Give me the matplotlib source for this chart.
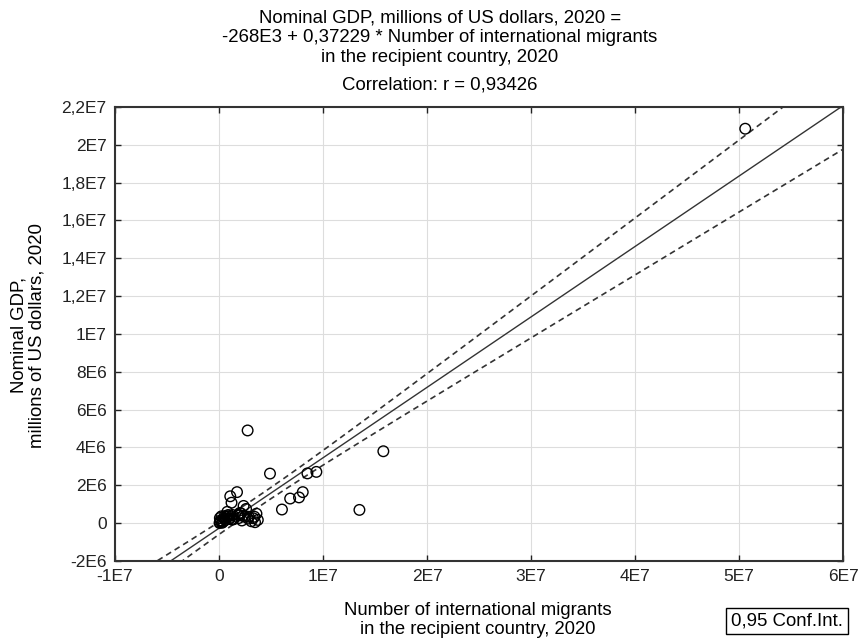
import numpy as np
import matplotlib.pyplot as plt

plt.rcParams['font.family'] = ['Liberation Sans', 'DejaVu Sans']

# migrants (persons) and nominal GDP (millions of US dollars), 2020
migrants = [50.6e6, 15.8e6, 13.5e6, 9.36e6, 8.5e6, 8.05e6, 7.69e6, 6.84e6,
            6.05e6, 4.9e6, 2.75e6, 3.73e6, 3.46e6, 1.73e6, 1.08e6, 1.2e6,
            2.36e6, 2.6e6, 2.0e6, 2.1e6, 1.8e6, 2.3e6, 0.8e6, 0.9e6,
            0.72e6, 1.95e6, 2.5e6, 0.88e6, 0.52e6, 1.0e6, 1.3e6, 0.94e6,
            1.9e6, 3.4e6, 2.86e6, 3.6e6, 1.3e6, 0.54e6, 0.23e6, 0.08e6,
            3.28e6, 2.8e6, 0.6e6, 0.7e6, 1.4e6, 1.2e6, 2.2e6, 3.1e6,
            0.1e6, 0.3e6, 0.2e6, 0.05e6, 0.4e6, 0.15e6]
gdp = [20.85e6, 3.80e6, 0.70e6, 2.71e6, 2.63e6, 1.64e6, 1.36e6, 1.30e6,
       0.72e6, 2.62e6, 4.90e6, 0.17e6, 0.05e6, 1.64e6, 1.42e6, 1.08e6,
       0.91e6, 0.75e6, 0.54e6, 0.52e6, 0.43e6, 0.39e6, 0.60e6, 0.36e6,
       0.36e6, 0.41e6, 0.34e6, 0.43e6, 0.25e6, 0.23e6, 0.19e6, 0.25e6,
       0.27e6, 0.34e6, 0.34e6, 0.50e6, 0.43e6, 0.37e6, 0.36e6, 0.27e6,
       0.26e6, 0.24e6, 0.16e6, 0.25e6, 0.21e6, 0.20e6, 0.14e6, 0.10e6,
       0.05e6, 0.02e6, 0.10e6, 0.01e6, 0.08e6, 0.15e6]

intercept = -268e3
slope = 0.37229
r_value = 0.93426

x_ticks = [-1e7, 0, 1e7, 2e7, 3e7, 4e7, 5e7, 6e7]
x_labels = ['-1E7', '0', '1E7', '2E7', '3E7', '4E7', '5E7', '6E7']
y_ticks = [-2e6, 0, 2e6, 4e6, 6e6, 8e6, 1e7, 1.2e7, 1.4e7, 1.6e7, 1.8e7, 2e7, 2.2e7]
y_labels = ['-2E6', '0', '2E6', '4E6', '6E6', '8E6', '1E7', '1,2E7', '1,4E7',
            '1,6E7', '1,8E7', '2E7', '2,2E7']

x = np.array(migrants)
y = np.array(gdp)
n = len(x)

# 95% confidence band for the mean prediction
resid = y - (intercept + slope * x)
s = np.sqrt(np.sum(resid ** 2) / (n - 2))
t_crit = 2.007  # t(0.975, ~50 df)
xbar = x.mean()
sxx = np.sum((x - xbar) ** 2)
xs = np.linspace(-1e7, 6e7, 300)
fit = intercept + slope * xs
half = t_crit * s * np.sqrt(1 / n + (xs - xbar) ** 2 / sxx)

fig = plt.figure(figsize=(8.61, 6.39), dpi=100)
ax = fig.add_axes([0.1336, 0.1221, 0.8455, 0.7105])

ax.plot(xs, fit, color='#333333', lw=1.0, zorder=3)
ax.plot(xs, fit + half, color='#333333', lw=1.2, dashes=(3.5, 2.5), zorder=3)
ax.plot(xs, fit - half, color='#333333', lw=1.2, dashes=(3.5, 2.5), zorder=3)
ax.scatter(x, y, s=58, facecolors='none', edgecolors='black', linewidths=1.0, zorder=4)

ax.set_xlim(-1e7, 6e7)
ax.set_ylim(-2e6, 2.2e7)
ax.set_xticks(x_ticks)
ax.set_xticklabels(x_labels)
ax.set_yticks(y_ticks)
ax.set_yticklabels(y_labels)
ax.tick_params(direction='in', length=4, width=1, top=True, right=True,
               labelsize=12.5, pad=6, colors='#222222')
ax.grid(True, color='#dddddd', lw=0.8)
ax.set_axisbelow(True)
for sp in ax.spines.values():
    sp.set_color('#333333')
    sp.set_linewidth(1.5)

title_x = 440 / 861
fig.text(title_x, 1 - 18 / 639, 'Nominal GDP, millions of US dollars, 2020 =',
         ha='center', va='center', fontsize=13.4)
fig.text(title_x, 1 - 38 / 639,
         '-268E3 + 0,37229 * Number of international migrants',
         ha='center', va='center', fontsize=13.4)
fig.text(title_x, 1 - 58 / 639, 'in the recipient country, 2020',
         ha='center', va='center', fontsize=13.4)
fig.text(title_x, 1 - 85 / 639,
         'Correlation: r = ' + ('%.5f' % r_value).replace('.', ','),
         ha='center', va='center', fontsize=13.4)

fig.text(478 / 861, 1 - 620 / 639,
         'Number of international migrants\nin the recipient country, 2020',
         ha='center', va='center', fontsize=13.3, linespacing=1.1)
fig.text(28 / 861, 1 - 335 / 639,
         'Nominal GDP,\nmillions of US dollars, 2020',
         ha='center', va='center', rotation=90, fontsize=13.4, linespacing=1.15)

fig.text(787 / 861, 1 - 621 / 639, '0,95 Conf.Int.', ha='center', va='center',
         fontsize=13.4,
         bbox=dict(boxstyle='square,pad=0.25', facecolor='white',
                   edgecolor='black', lw=1))

fig.savefig('out.png', dpi=100)
